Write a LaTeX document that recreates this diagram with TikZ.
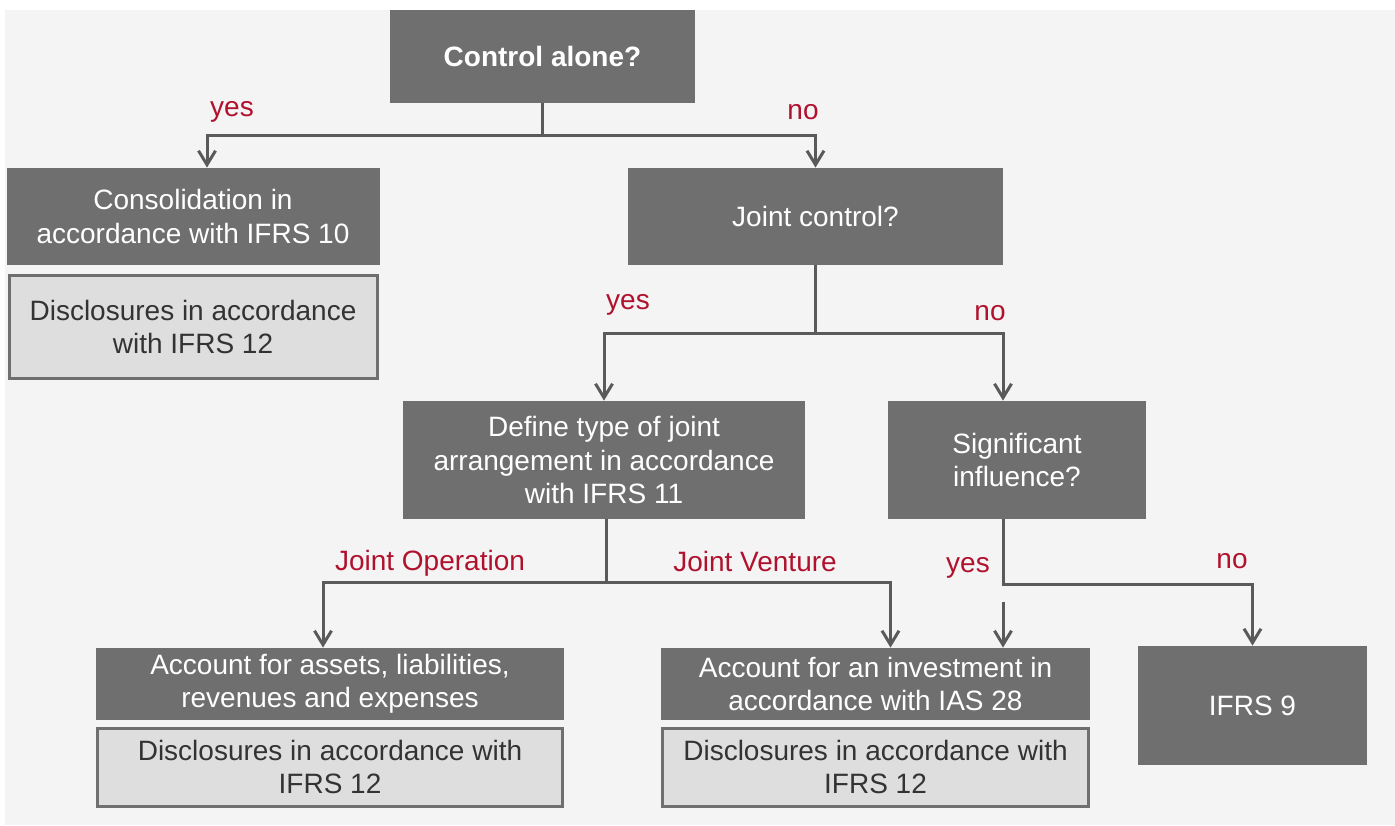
\documentclass[tikz,border=0pt]{standalone}
\usepackage{fontspec}
\setmainfont{Liberation Sans}
\usetikzlibrary{arrows.meta,positioning}

\definecolor{bggray}{HTML}{F4F4F4}
\definecolor{boxgray}{HTML}{6F6F6F}
\definecolor{notegray}{HTML}{DEDEDE}
\definecolor{linegray}{HTML}{5A5A5A}
\definecolor{lblred}{HTML}{B0122E}

\begin{document}
\begin{tikzpicture}[x=0.5pt,
            y=-0.5pt,
            >={Straight Barb[length=7pt,width=8.5pt]},
            font=\fontsize{14}{16.6}\selectfont,
            box/.style={fill=boxgray, text=white, align=center, inner sep=0pt},
            note/.style={fill=notegray, draw=boxgray, line width=1.5pt,
                         text=black!80, align=center, inner sep=0pt},
            link/.style={draw=linegray, line width=1.5pt},
            lbl/.style={text=lblred, inner sep=0pt}]

        \useasboundingbox (0,0) rectangle (1395,825);
        \fill[white] (0,0) rectangle (1395,825);
        \fill[bggray] (5,10) rectangle (1395,825);

        \node[box, minimum width=152.5pt, minimum height=46.5pt, font=\fontsize{14}{16.6}\selectfont\bfseries]
            (ctrl) at (542.5,56.5) {Control alone?};
        \node[box, minimum width=186.5pt, minimum height=48.5pt]
            (cons) at (193,216.5) {Consolidation in\\accordance with IFRS 10};
        \node[note, minimum width=184pt, minimum height=51.5pt, below=4.2pt of cons]
            (disc1) {Disclosures in accordance\\with IFRS 12};
        \node[box, minimum width=187.5pt, minimum height=48.5pt]
            (joint) at (815.5,216.5) {Joint control?};
        \node[box, minimum width=201pt, minimum height=59pt]
            (def) at (604,460) {Define type of joint\\arrangement in accordance\\with IFRS 11};
        \node[box, minimum width=129pt, minimum height=59pt]
            (sig) at (1017,460) {Significant\\influence?};
        \node[box, minimum width=234pt, minimum height=36pt]
            (assets) at (330,684) {Account for assets, liabilities,\\revenues and expenses};
        \node[note, minimum width=232.5pt, minimum height=39pt, below=3.2pt of assets]
            (disc2) {Disclosures in accordance with\\IFRS 12};
        \node[box, minimum width=214.5pt, minimum height=36pt]
            (invest) at (875.5,684) {Account for an investment in\\accordance with IAS 28};
        \node[note, minimum width=213pt, minimum height=39pt, below=3.2pt of invest]
            (disc3) {Disclosures in accordance with\\IFRS 12};
        \node[box, minimum width=114.5pt, minimum height=59.5pt]
            (ifrs) at (1252.5,705.5) {IFRS 9};

        \coordinate (yesfree) at (1003,602);

        % tree connectors
        \draw[link,->] (ctrl.south) -- ++(0,32) -| ([xshift=7pt]cons.north);
        \draw[link,->] (ctrl.south) -- ++(0,32) -| (joint.north);
        \draw[link,->] (joint.south) -- ++(0,68) -| (def.north);
        \draw[link,->] (joint.south) -- ++(0,68) -| ([xshift=-7pt]sig.north);
        \draw[link,->] ([xshift=1pt]def.south) -- ++(0,63) -| ([xshift=-3.5pt]assets.north);
        \draw[link,->] ([xshift=1pt]def.south) -- ++(0,63) -| ([xshift=7.5pt]invest.north);
        \draw[link,->] ([xshift=-7pt]sig.south) -- ++(0,65) -| (ifrs.north);
        \draw[link,->] (yesfree) -- (yesfree |- invest.north);

        \node[lbl] (ctrlyes)  at (232,112) {yes};
        \node[lbl] (ctrlno)   at (803,112) {no};
        \node[lbl] (jointyes) at (628,305) {yes};
        \node[lbl] (jointno)  at (990,313) {no};
        \node[lbl] (jop)      at (430,563) {Joint Operation};
        \node[lbl] (jv)       at (755,561) {Joint Venture};
        \node[lbl] (sigyes)   at (968,568) {yes};
        \node[lbl] (signo)    at (1232,561) {no};

    \end{tikzpicture}
\end{document}
